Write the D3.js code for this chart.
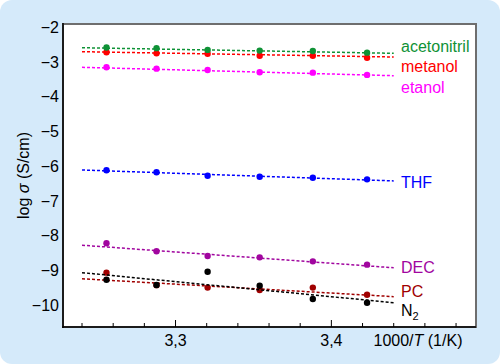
<!DOCTYPE html>
<html>
<head>
<meta charset="utf-8">
<script src="https://cdn.jsdelivr.net/npm/d3@7"></script>
<style>
  html, body { margin: 0; padding: 0; background: #fff; }
  svg { display: block; font-family: "Liberation Sans", Arial, sans-serif; }
</style>
</head>
<body>
<svg id="chart" width="500" height="364"></svg>
<script>
// 1000/T for 34, 31, 28, 25, 22, 19 °C
const invT = [3.2557, 3.2878, 3.3206, 3.3540, 3.3881, 3.4229];

const series = ["acetonitril", "metanol", "etanol", "THF", "DEC", "PC", "N2"];
const colors = ["#0f9236", "#ff0000", "#ff00ff", "#0000ff", "#a1069f", "#a00000", "#000000"];

const acetonitril = [-2.58, -2.60, -2.65, -2.67, -2.68, -2.73];
const metanol = [-2.72, -2.75, -2.76, -2.82, -2.82, -2.875];
const etanol = [-3.15, -3.19, -3.23, -3.295, -3.305, -3.37];
const thf = [-6.115, -6.17, -6.27, -6.30, -6.33, -6.375];
const dec = [-8.215, -8.445, -8.58, -8.62, -8.735, -8.83];
const pc = [-9.06, -9.42, -9.49, -9.56, -9.49, -9.695];
const n2 = [-9.265, -9.415, -9.035, -9.435, -9.82, -9.925];

// dashed fit lines, value at 1000/T = 3.24 and 3.44
const fitX = [3.24, 3.44];
const fitStart = [-2.587, -2.702, -3.151, -6.106, -8.27, -9.237, -9.06];
const fitEnd = [-2.748, -2.855, -3.393, -6.42, -8.92, -9.75, -9.925];

// where the series names sit (in log sigma units)
const labelLevels = [-2.56, -3.13, -3.74, -6.45, -8.9, -9.6, -10.15];

const yTicks = [-2, -3, -4, -5, -6, -7, -8, -9, -10];
const xMinor = [3.24, 3.26, 3.28, 3.32, 3.34, 3.36, 3.38, 3.42, 3.44, 3.46, 3.48];
const xMajor = [3.3, 3.4];
const xMajorLabels = ["3,3", "3,4"];

const values = [acetonitril, metanol, etanol, thf, dec, pc, n2];

const svg = d3.select("#chart");
const W = 500, H = 364;
const pLeft = 63, pRight = 476, pTop = 24, pBottom = 327;

svg.append("rect")
  .attr("x", 0).attr("y", 0)
  .attr("width", W).attr("height", H)
  .attr("rx", 12)
  .attr("fill", "#d5eafa");

const x = d3.scaleLinear().domain([3.2278, 3.4928]).range([pLeft, pRight]);
const y = d3.scaleLinear().domain([-10.624, -1.905]).range([pBottom, pTop]);

// plot area
svg.append("rect")
  .attr("x", pLeft).attr("y", pTop)
  .attr("width", pRight - pLeft).attr("height", pBottom - pTop)
  .attr("fill", "#fff")
  .attr("stroke", "#6e6e6e")
  .attr("stroke-width", 2);

// ticks along the bottom, pointing up
svg.append("g").selectAll("line.minor")
  .data(xMinor)
  .enter().append("line")
  .attr("x1", d => x(d)).attr("x2", d => x(d))
  .attr("y1", pBottom).attr("y2", pBottom - 4)
  .attr("stroke", "#000").attr("stroke-width", 1);

svg.append("g").selectAll("line.major")
  .data(xMajor)
  .enter().append("line")
  .attr("x1", d => x(d)).attr("x2", d => x(d))
  .attr("y1", pBottom).attr("y2", pBottom - 7)
  .attr("stroke", "#000").attr("stroke-width", 1);

svg.append("g").selectAll("text")
  .data(xMajor)
  .enter().append("text")
  .attr("x", d => x(d))
  .attr("y", 346)
  .attr("text-anchor", "middle")
  .attr("font-size", 16)
  .text((d, i) => xMajorLabels[i]);

const xl = svg.append("text")
  .attr("x", 418).attr("y", 346)
  .attr("text-anchor", "middle")
  .attr("font-size", 16);
xl.append("tspan").text("1000/");
xl.append("tspan").attr("font-style", "italic").text("T");
xl.append("tspan").text(" (1/K)");

// y tick labels (no marks)
svg.append("g").selectAll("text")
  .data(yTicks)
  .enter().append("text")
  .attr("x", 59)
  .attr("y", d => y(d))
  .attr("dy", "0.35em")
  .attr("text-anchor", "end")
  .attr("font-size", 16)
  .text(d => "\u2212" + Math.abs(d));

const yl = svg.append("text")
  .attr("transform", `translate(29,${(pTop + pBottom) / 2}) rotate(-90)`)
  .attr("text-anchor", "middle")
  .attr("font-size", 16);
yl.append("tspan").text("log ");
yl.append("tspan").attr("font-style", "italic").text("\u03c3");
yl.append("tspan").text(" (S/cm)");

// axes lines
svg.append("line")
  .attr("x1", pLeft).attr("x2", pLeft)
  .attr("y1", pTop - 1).attr("y2", pBottom + 1)
  .attr("stroke", "#000").attr("stroke-width", 1.5);
svg.append("line")
  .attr("x1", pLeft - 1).attr("x2", pRight)
  .attr("y1", pBottom).attr("y2", pBottom)
  .attr("stroke", "#000").attr("stroke-width", 1.5);

// N2 goes last so its points cover PC where they overlap
const order = [5, 6, 4, 3, 2, 1, 0];
order.forEach(i => {
  const g = svg.append("g");
  g.append("line")
    .attr("x1", x(fitX[0])).attr("y1", y(fitStart[i]))
    .attr("x2", x(fitX[1])).attr("y2", y(fitEnd[i]))
    .attr("stroke", colors[i])
    .attr("stroke-width", 1.5)
    .attr("stroke-dasharray", "3,2");
  g.selectAll("circle")
    .data(values[i])
    .enter().append("circle")
    .attr("cx", (d, j) => x(invT[j]))
    .attr("cy", d => y(d))
    .attr("r", 3.2)
    .attr("fill", colors[i]);
});

// series names
series.forEach((name, i) => {
  const t = svg.append("text")
    .attr("x", 401)
    .attr("y", y(labelLevels[i]))
    .attr("dy", "0.35em")
    .attr("font-size", 16)
    .attr("fill", colors[i]);
  if (name === "N2") {
    t.append("tspan").text("N");
    t.append("tspan").attr("font-size", 11).attr("dy", 4).text("2");
  } else {
    t.text(name);
  }
});
</script>
</body>
</html>
